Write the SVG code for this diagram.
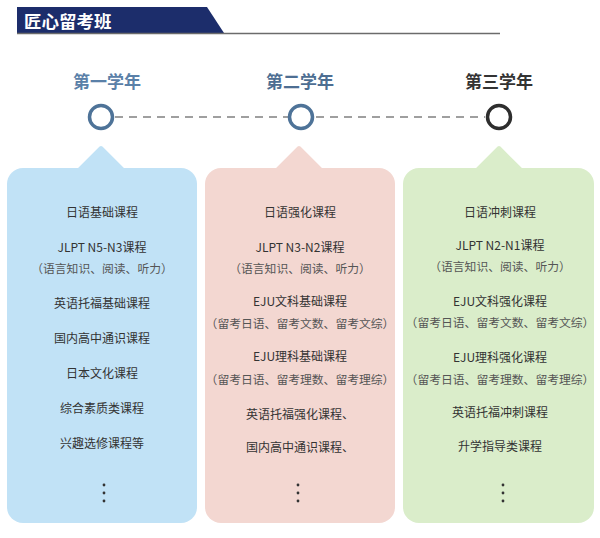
<svg xmlns="http://www.w3.org/2000/svg" width="600" height="538" viewBox="0 0 600 538">
<style>
  .bg { fill: #ffffff; }
  .title { font-family: "Noto Sans CJK SC", "Noto Sans", sans-serif; font-weight: bold; font-size: 17.5px; fill: #ffffff; }
  .year { font-family: "Noto Sans CJK SC", "Noto Sans", sans-serif; font-weight: bold; font-size: 17px; text-anchor: middle; }
  .item { font-family: "Noto Sans CJK SC", "Noto Sans", sans-serif; font-size: 12px; fill: #333333; text-anchor: middle; }
  .sub { font-family: "Noto Sans CJK SC", "Noto Sans", sans-serif; font-size: 11.8px; fill: #555555; text-anchor: middle; }
  .dot { fill: #333333; }
  .ring { fill: #ffffff; stroke-width: 3.5; }
  .blue { fill: #c1e2f6; stroke: #c1e2f6; }
  .pink { fill: #f3d7d1; stroke: #f3d7d1; }
  .green { fill: #daedca; stroke: #daedca; }
  .tip { stroke-width: 4; stroke-linejoin: round; }
</style>
<rect class="bg" x="0" y="0" width="600" height="538"/>

<g id="header">
  <polygon points="17,7 207,7 224,33 17,33" fill="#1c2d6b"/>
  <line x1="17" y1="33.5" x2="500" y2="33.5" stroke="#6b6b6b" stroke-width="1.5"/>
  <text class="title" x="24" y="28">匠心留考班</text>
</g>

<g id="connectors">
  <line x1="115" y1="117" x2="288" y2="117" stroke="#808080" stroke-width="1.5" stroke-dasharray="8,6"/>
  <line x1="316" y1="117" x2="485" y2="117" stroke="#808080" stroke-width="1.5" stroke-dasharray="8,6"/>
</g>

<g id="year1">
  <text class="year" x="107" y="88" fill="#5a80a8">第一学年</text>
  <circle class="ring" cx="101" cy="117" r="11.5" stroke="#4e7398"/>
</g>
<g id="year2">
  <text class="year" x="300" y="88" fill="#4d6e92">第二学年</text>
  <circle class="ring" cx="301" cy="117" r="11.5" stroke="#4e7398"/>
</g>
<g id="year3">
  <text class="year" x="499" y="88" fill="#333333">第三学年</text>
  <circle class="ring" cx="499" cy="117" r="11.5" stroke="#2e2e2e"/>
</g>

<g id="box1">
  <polygon class="blue tip" points="101,148 79,170 123,170"/>
  <rect class="blue" x="7" y="168" width="190" height="355" rx="16" stroke-width="0"/>
  <text class="item" x="102" y="217">日语基础课程</text>
  <text class="item" x="102" y="252">JLPT N5-N3课程</text>
  <text class="sub" x="102" y="273">（语言知识、阅读、听力）</text>
  <text class="item" x="102" y="308">英语托福基础课程</text>
  <text class="item" x="102" y="343">国内高中通识课程</text>
  <text class="item" x="102" y="378">日本文化课程</text>
  <text class="item" x="102" y="413">综合素质类课程</text>
  <text class="item" x="102" y="448">兴趣选修课程等</text>
  <circle class="dot" cx="104" cy="485" r="1.4"/>
  <circle class="dot" cx="104" cy="493" r="1.4"/>
  <circle class="dot" cx="104" cy="501" r="1.4"/>
</g>

<g id="box2">
  <polygon class="pink tip" points="299,148 277,170 321,170"/>
  <rect class="pink" x="205" y="168" width="190" height="355" rx="16" stroke-width="0"/>
  <text class="item" x="300" y="217">日语强化课程</text>
  <text class="item" x="300" y="252">JLPT N3-N2课程</text>
  <text class="sub" x="300" y="273">（语言知识、阅读、听力）</text>
  <text class="item" x="300" y="306">EJU文科基础课程</text>
  <text class="sub" x="300" y="328">（留考日语、留考文数、留考文综）</text>
  <text class="item" x="300" y="361">EJU理科基础课程</text>
  <text class="sub" x="300" y="384">（留考日语、留考理数、留考理综）</text>
  <text class="item" x="300" y="419">英语托福强化课程、</text>
  <text class="item" x="300" y="452">国内高中通识课程、</text>
  <circle class="dot" cx="298" cy="485" r="1.4"/>
  <circle class="dot" cx="298" cy="493" r="1.4"/>
  <circle class="dot" cx="298" cy="501" r="1.4"/>
</g>

<g id="box3">
  <polygon class="green tip" points="499,148 477,170 521,170"/>
  <rect class="green" x="403" y="168" width="191" height="355" rx="16" stroke-width="0"/>
  <text class="item" x="500" y="217">日语冲刺课程</text>
  <text class="item" x="500" y="250">JLPT N2-N1课程</text>
  <text class="sub" x="500" y="271">（语言知识、阅读、听力）</text>
  <text class="item" x="500" y="306">EJU文科强化课程</text>
  <text class="sub" x="500" y="327">（留考日语、留考文数、留考文综）</text>
  <text class="item" x="500" y="362">EJU理科强化课程</text>
  <text class="sub" x="500" y="384">（留考日语、留考理数、留考理综）</text>
  <text class="item" x="500" y="417">英语托福冲刺课程</text>
  <text class="item" x="500" y="451">升学指导类课程</text>
  <circle class="dot" cx="503" cy="485" r="1.4"/>
  <circle class="dot" cx="503" cy="493" r="1.4"/>
  <circle class="dot" cx="503" cy="501" r="1.4"/>
</g>
</svg>
